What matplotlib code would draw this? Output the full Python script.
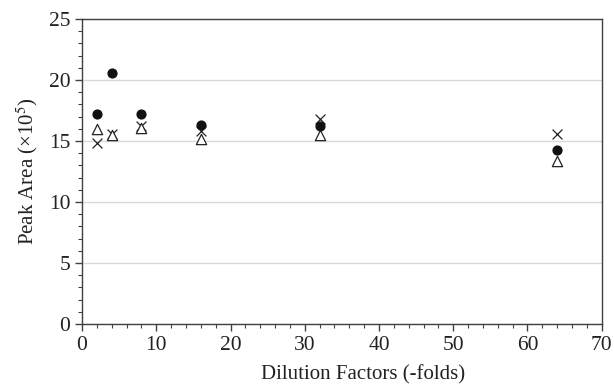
import matplotlib
matplotlib.use("Agg")
import matplotlib.pyplot as plt
from matplotlib.ticker import MultipleLocator

plt.rcParams['font.family'] = ['Liberation Serif', 'DejaVu Serif']
plt.rcParams['mathtext.fontset'] = 'stix'

dilution = [2, 4, 8, 16, 32, 64]
series_circle = [17.2, 20.6, 17.2, 16.3, 16.2, 14.3]
series_triangle = [16.0, 15.5, 16.1, 15.2, 15.5, 13.4]
series_cross = [14.8, 15.6, 16.2, 15.8, 16.8, 15.6]

fig = plt.figure(figsize=(6.14, 3.85), dpi=100)
ax = fig.add_axes([0.1336, 0.1584, 0.8464, 0.7922])

ax.yaxis.grid(True, color='#d9d9d9', linewidth=1.0)
ax.set_axisbelow(True)

ax.scatter(dilution, series_cross, marker='x', s=50, c='#222222', linewidths=0.9, zorder=3)
ax.scatter(dilution, series_triangle, marker='^', s=55, facecolors='white', edgecolors='#222222', linewidths=0.9, zorder=3)
ax.scatter(dilution, series_circle, marker='o', s=40, c='#111111', zorder=4)

ax.set_xlim(0, 70)
ax.set_ylim(0, 25)
ax.xaxis.set_major_locator(MultipleLocator(10))
ax.xaxis.set_minor_locator(MultipleLocator(2))
ax.yaxis.set_major_locator(MultipleLocator(5))
ax.yaxis.set_minor_locator(MultipleLocator(1))

for s in ax.spines.values():
    s.set_color('#404040')
    s.set_linewidth(1.0)

ax.tick_params(axis='both', which='major', direction='out', length=5, width=1.0, color='#404040', labelsize=15.5, labelcolor='#222222')
ax.tick_params(axis='both', which='minor', direction='out', length=3, width=0.8, color='#404040')
ax.tick_params(top=False, right=False, which='both')

ax.set_xlabel('Dilution Factors (-folds)', fontsize=15, color='#222222', labelpad=2)
ax.xaxis.set_label_coords(0.54, -0.135)
ax.set_ylabel(r'Peak Area (×10$^5$)', fontsize=15, color='#222222', labelpad=6)

fig.savefig('out.png', dpi=100)
